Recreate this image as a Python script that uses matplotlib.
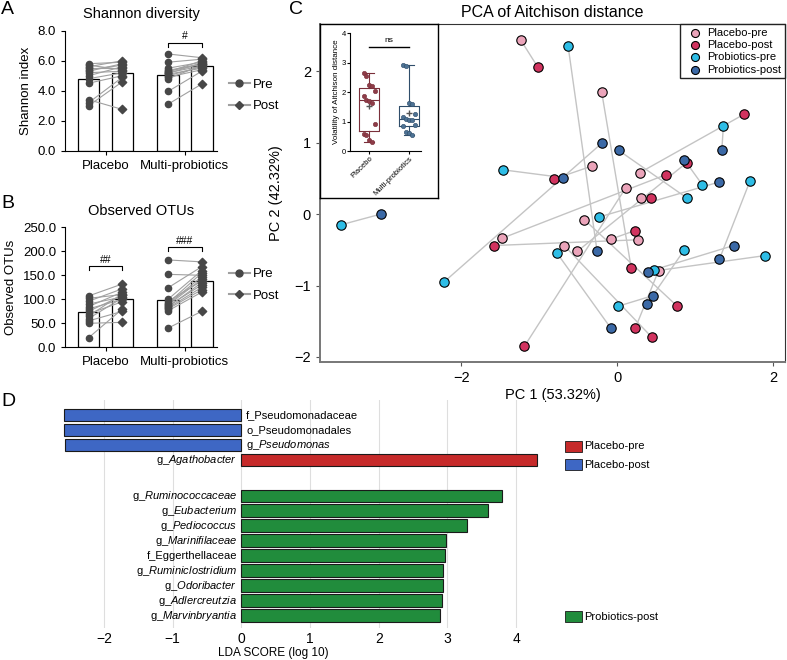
import numpy as np
import matplotlib.pyplot as plt
from matplotlib.lines import Line2D
from matplotlib.patches import Rectangle

plt.rcParams['font.family'] = ['Liberation Sans', 'DejaVu Sans']
plt.rcParams['mathtext.fontset'] = 'custom'
plt.rcParams['mathtext.rm'] = 'Liberation Sans'
plt.rcParams['mathtext.it'] = 'Liberation Sans:italic'

# ---------------- data ----------------
groups = ['Placebo', 'Multi-probiotics']

# A: Shannon index (paired, same order pre/post)
shannon_placebo_pre = [5.8, 5.7, 5.6, 5.5, 5.4, 5.3, 5.2, 5.0, 4.8, 4.5, 3.4, 3.2, 3.0]
shannon_placebo_post = [5.9, 5.4, 6.0, 5.5, 5.7, 5.8, 5.3, 5.6, 5.2, 5.0, 2.75, 4.9, 4.6]
shannon_multi_pre = [6.45, 5.9, 5.5, 5.35, 5.3, 5.25, 5.2, 5.15, 5.1, 5.0, 4.9, 4.8, 3.95, 3.1]
shannon_multi_post = [6.2, 6.1, 5.9, 5.8, 5.75, 6.0, 5.65, 5.85, 5.5, 5.6, 5.4, 5.7, 5.3, 4.45]

# B: observed OTUs
otu_placebo_pre = [107, 102, 96, 90, 85, 80, 75, 70, 65, 60, 55, 50, 20]
otu_placebo_post = [132, 110, 122, 105, 115, 100, 108, 95, 112, 103, 75, 52, 80]
otu_multi_pre = [182, 152, 124, 100, 96, 92, 90, 88, 86, 84, 82, 80, 76, 40]
otu_multi_post = [178, 150, 168, 160, 138, 155, 147, 142, 130, 135, 125, 120, 115, 75]

# C: PCA of Aitchison distance (pre[i] paired with post[i])
placebo_pre_pc1 = [-1.24, -0.20, -0.33, 0.29, 0.11, 0.31, -1.48, -0.68, -0.51, -0.42, -0.08, 0.26, 0.53]
placebo_pre_pc2 = [2.44, 1.71, 0.67, 0.58, 0.37, 0.22, -0.34, -0.44, -0.52, -0.08, -0.35, -0.36, -0.79]
placebo_post_pc1 = [-1.02, 0.18, -0.81, 1.63, -1.19, 0.43, 0.62, 0.44, 0.89, 0.77, 0.23, -1.58, 0.23]
placebo_post_pc2 = [2.06, -0.76, 0.49, 1.40, -1.85, 0.22, 0.55, -1.72, 0.72, -1.29, -0.23, -0.44, -1.60]
probio_pre_pc1 = [-0.63, -1.47, 1.36, 1.09, 1.70, 0.90, -3.54, -2.22, -0.77, -0.23, 0.01, 0.47, 0.86, 1.90]
probio_pre_pc2 = [2.35, 0.62, 1.23, 0.41, 0.46, 0.22, -0.15, -0.95, -0.55, -0.04, -1.29, -0.78, -0.50, -0.58]
probio_post_pc1 = [-0.26, -0.69, 1.34, 0.86, 1.31, 0.02, -3.03, -0.19, -0.08, 1.31, 0.46, 1.49, 0.38, 0.39]
probio_post_pc2 = [-0.51, 0.51, 0.89, 0.76, -0.63, 0.89, 0.00, 1.00, -1.60, 0.45, -1.14, -0.44, -1.26, -0.81]

# C inset: volatility of Aitchison distance
vol_placebo = [2.64, 2.56, 2.25, 2.20, 2.03, 1.88, 1.75, 1.70, 1.62, 0.92, 0.58, 0.55, 0.36, 0.32]
vol_multi = [2.93, 2.90, 1.62, 1.60, 1.25, 1.15, 1.10, 1.05, 1.05, 0.90, 0.85, 0.65, 0.60, 0.55]

# D: LEfSe LDA scores
lda_labels = ['f_Pseudomonadaceae', 'o_Pseudomonadales', r'g_$\mathit{Pseudomonas}$',
              r'g_$\mathit{Agathobacter}$', r'g_$\mathit{Ruminococcaceae}$',
              r'g_$\mathit{Eubacterium}$', r'g_$\mathit{Pediococcus}$',
              r'g_$\mathit{Marinifilaceae}$', 'f_Eggerthellaceae',
              r'g_$\mathit{Ruminiclostridium}$', r'g_$\mathit{Odoribacter}$',
              r'g_$\mathit{Adlercreutzia}$', r'g_$\mathit{Marvinbryantia}$']
lda_scores = [-2.58, -2.58, -2.56, 4.31, 3.80, 3.59, 3.28, 2.98, 2.97, 2.94, 2.94, 2.92, 2.89]
lda_groups = ['Placebo-post'] * 3 + ['Placebo-pre'] + ['Probiotics-post'] * 9

# ---------------- figure ----------------
W, H = 787, 660
fig = plt.figure(figsize=(W / 100, H / 100), dpi=100)


def rect(l, t, r, b):
    return [l / W, 1 - b / H, (r - l) / W, (b - t) / H]


def paired_bars(ax, data, ylim, yticks, title, brackets, leg_y):
    xs = [(0, 1), (2.35, 3.35)]
    for (xp, xq), (pre, post) in zip(xs, data):
        ax.bar([xp, xq], [np.mean(pre), np.mean(post)], width=0.64,
               color='white', edgecolor='black', lw=0.9, zorder=1)
        for a, b in zip(pre, post):
            ax.plot([xp, xq], [a, b], color='#a0a0a0', lw=0.8, zorder=2)
        ax.scatter([xp] * len(pre), pre, marker='o', s=20, color='#474747', zorder=3)
        ax.scatter([xq] * len(post), post, marker='D', s=18, color='#474747', zorder=3)
    for gi, y, h, txt in brackets:
        xp, xq = xs[gi]
        ax.plot([xp, xp, xq, xq], [y - h, y, y, y - h], color='black', lw=0.8)
        ax.text((xp + xq) / 2, y + h * 0.4, txt, ha='center', va='bottom', fontsize=7.5)
    ax.set_xlim(-0.70, 3.8)
    ax.set_ylim(*ylim)
    ax.set_yticks(yticks)
    ax.set_yticklabels(['%.1f' % v for v in yticks], fontsize=9.5)
    ax.set_xticks([0.5, 2.85])
    ax.set_xticklabels(groups, fontsize=9.5)
    ax.spines[['top', 'right']].set_visible(False)
    ax.tick_params(length=3)
    ax.set_title(title, fontsize=10.5, pad=9)
    handles = [Line2D([0], [0], color='#a0a0a0', marker='o', mfc='#474747', mec='#474747', ms=5, label='Pre'),
               Line2D([0], [0], color='#a0a0a0', marker='D', mfc='#474747', mec='#474747', ms=4.5, label='Post')]
    ax.legend(handles=handles, loc='center left', bbox_to_anchor=(1.0, leg_y), frameon=False,
              fontsize=9.5, handlelength=1.6, handletextpad=0.2, labelspacing=0.7)


# A
axA = fig.add_axes(rect(65, 30.7, 217, 150.7))
paired_bars(axA, [(shannon_placebo_pre, shannon_placebo_post), (shannon_multi_pre, shannon_multi_post)],
            (0, 8), [0, 2, 4, 6, 8], 'Shannon diversity', [(1, 7.2, 0.28, '#')], 0.46)
axA.set_ylabel('Shannon index', fontsize=9.5)

# B
axB = fig.add_axes(rect(65, 227.3, 217, 347.3))
paired_bars(axB, [(otu_placebo_pre, otu_placebo_post), (otu_multi_pre, otu_multi_post)],
            (0, 250), [0, 50, 100, 150, 200, 250], 'Observed OTUs',
            [(0, 169, 8, '##'), (1, 208, 8, '###')], 0.52)
axB.set_ylabel('Observed OTUs', fontsize=9.5)

# C main
axC = fig.add_axes(rect(320, 24, 785, 362))
col = {'Placebo-pre': '#eba4ba', 'Placebo-post': '#d1335f',
       'Probiotics-pre': '#2ebde6', 'Probiotics-post': '#3b69a6'}
for x0, y0, x1, y1 in [(placebo_pre_pc1, placebo_pre_pc2, placebo_post_pc1, placebo_post_pc2),
                       (probio_pre_pc1, probio_pre_pc2, probio_post_pc1, probio_post_pc2)]:
    for a, b, c, d in zip(x0, y0, x1, y1):
        axC.plot([a, c], [b, d], color='#c4c4c4', lw=1.0, zorder=1)
for name, xs_, ys_ in [('Placebo-pre', placebo_pre_pc1, placebo_pre_pc2),
                       ('Placebo-post', placebo_post_pc1, placebo_post_pc2),
                       ('Probiotics-pre', probio_pre_pc1, probio_pre_pc2),
                       ('Probiotics-post', probio_post_pc1, probio_post_pc2)]:
    axC.scatter(xs_, ys_, s=46, color=col[name], edgecolor='black', lw=0.8, zorder=3, label=name)
axC.set_xlim(-3.81, 2.15)
axC.set_ylim(-2.07, 2.66)
axC.set_xticks([-2, 0, 2])
axC.set_yticks([-2, -1, 0, 1, 2])
axC.set_xticklabels(['\u22122', '0', '2'], fontsize=10.5)
axC.set_yticklabels(['\u22122', '\u22121', '0', '1', '2'], fontsize=10.5)
axC.tick_params(length=3, color='#555555')
for s in ['left', 'bottom']:
    axC.spines[s].set_color('#777777')
    axC.spines[s].set_linewidth(1.4)
for s in ['top', 'right']:
    axC.spines[s].set_color('#333333')
axC.set_xlabel('PC 1 (53.32%)', fontsize=10.5, labelpad=2)
axC.set_ylabel('PC 2 (42.32%)', fontsize=10.5, labelpad=8)
axC.set_title('PCA of Aitchison distance', fontsize=11.5, pad=5)
leg = axC.legend(loc='upper right', fontsize=8, fancybox=False, edgecolor='#222222', framealpha=1,
                 borderaxespad=0, handletextpad=0.1, labelspacing=0.2, borderpad=0.35,
                 markerscale=0.85)
leg.get_frame().set_linewidth(1.0)

# C inset frame + boxplot
frame = fig.add_axes(rect(320, 24, 438, 198))
frame.set_xticks([])
frame.set_yticks([])
for s in frame.spines.values():
    s.set_color('black')
    s.set_linewidth(1.0)

axI = fig.add_axes(rect(350, 33.3, 421, 151))
for pos, vals, c, ec in [(1, vol_placebo, '#8e3c48', '#7a2f3a'), (2, vol_multi, '#4d7294', '#2f4d6a')]:
    axI.boxplot([vals], positions=[pos], widths=0.5, whis=(0, 100), showmeans=True,
                boxprops=dict(color=ec, lw=0.8), whiskerprops=dict(color=ec, lw=0.8),
                capprops=dict(color=ec, lw=0.8), medianprops=dict(color=ec, lw=0.8),
                meanprops=dict(marker='+', markeredgecolor='#555555', markersize=4),
                flierprops=dict(marker=''))
    offs = [((i % 5) - 2) * 0.07 for i in range(len(vals))]
    axI.scatter(np.array(offs) + pos, vals, s=10, color=c, edgecolor=ec, lw=0.4, zorder=3)
axI.plot([1, 2], [3.53, 3.53], color='black', lw=1.0)
axI.text(1.5, 3.62, 'ns', ha='center', va='bottom', fontsize=6)
axI.set_xlim(0.52, 2.3)
axI.set_ylim(0, 4)
axI.set_yticks([0, 1, 2, 3, 4])
axI.tick_params(labelsize=5.5, length=2, pad=1)
axI.set_xticks([1, 2])
axI.set_xticklabels(groups, rotation=45, ha='right', rotation_mode='anchor', fontsize=5.5)
axI.spines[['top', 'right']].set_visible(False)
axI.set_ylabel('Volatility of Aitchison distance', fontsize=5.8, labelpad=1)

# D
axD = fig.add_axes(rect(60, 400, 545, 628))
rows = [0, 1, 2, 3] + [5.4 + i for i in range(9)]
dcol = {'Placebo-pre': '#c62a2a', 'Placebo-post': '#3e67c4', 'Probiotics-post': '#218c3c'}
axD.barh(rows, lda_scores, height=0.85, color=[dcol[g] for g in lda_groups],
         edgecolor='#1a1a1a', lw=0.8, zorder=2)
for r, lab, v in zip(rows, lda_labels, lda_scores):
    if v < 0:
        axD.text(0.07, r, lab, ha='left', va='center', fontsize=8)
    else:
        axD.text(-0.06, r, lab, ha='right', va='center', fontsize=8)
axD.set_xlim(-2.64, 4.42)
axD.set_ylim(14.22, -1)
axD.set_xticks([-2, -1, 0, 1, 2, 3, 4])
axD.set_xticklabels(['\u22122', '\u22121', '0', '1', '2', '3', '4'], fontsize=10)
axD.set_yticks([])
axD.tick_params(length=0, pad=3)
axD.grid(axis='x', color='#dedede', lw=0.8, zorder=0)
axD.set_axisbelow(True)
for s in axD.spines.values():
    s.set_visible(False)
axD.set_xlabel('LDA SCORE (log 10)', fontsize=8.5)
axD.xaxis.set_label_coords(0.44, -0.085)
for g, r in [('Placebo-pre', 2.09), ('Placebo-post', 3.32), ('Probiotics-post', 13.47)]:
    axD.add_patch(Rectangle((4.71, r - 0.37), 0.25, 0.74, facecolor=dcol[g], edgecolor='#1a1a1a',
                            lw=0.6, clip_on=False))
    axD.text(4.99, r, g, ha='left', va='center', fontsize=8)

# panel letters
for lab, x, y in [('A', 1, 10), ('B', 1, 204), ('C', 289, 10), ('D', 1, 402)]:
    fig.text(x / W, 1 - y / H, lab, fontsize=14, ha='left', va='center')

fig.savefig('out.png', dpi=100)
